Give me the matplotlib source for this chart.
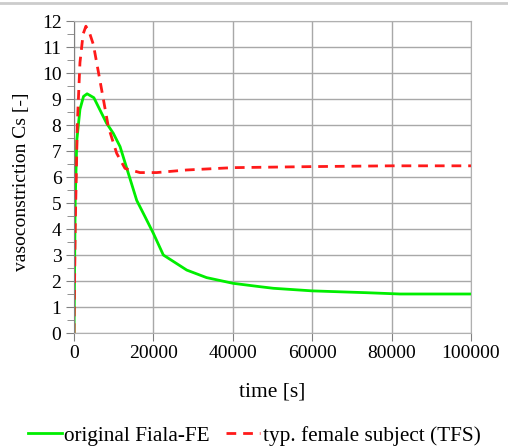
import matplotlib.pyplot as plt
from matplotlib.lines import Line2D
from matplotlib.ticker import MultipleLocator

# original Fiala-FE
t_fiala = [0, 300, 700, 1500, 2400, 3300, 5000, 8200, 9900, 11600, 15800, 17900,
           20000, 22500, 28400, 33400, 40100, 46900, 50200, 60000, 73700, 82100, 100000]
cs_fiala = [0, 5.0, 7.4, 8.6, 9.1, 9.2, 9.05, 8.07, 7.68, 7.17, 5.1, 4.47,
            3.83, 3.0, 2.42, 2.13, 1.91, 1.78, 1.72, 1.62, 1.55, 1.5, 1.5]

# typ. female subject (TFS)
t_tfs = [0, 300, 830, 1500, 2300, 3000, 4000, 4870, 6970, 8650, 10750, 12850,
         16600, 20800, 28400, 40100, 60000, 80100, 100000]
cs_tfs = [0, 4.0, 8.0, 10.4, 11.5, 11.8, 11.5, 11.1, 9.35, 7.93, 6.91, 6.33,
          6.17, 6.17, 6.27, 6.36, 6.4, 6.43, 6.43]

plt.rcParams['font.family'] = ['Liberation Serif', 'DejaVu Serif']

fig = plt.figure(figsize=(5.08, 4.46), dpi=100)
ax = fig.add_axes([74 / 508, 113 / 446, 397 / 508, 312 / 446])

ax.plot(t_fiala, cs_fiala, color='#00ee00', lw=2, label='original Fiala-FE')
ax.plot(t_tfs, cs_tfs, color='#ff1a1a', lw=2, dashes=(3.5, 2.5),
        label='typ. female subject (TFS)')

ax.set_xlim(0, 100000)
ax.set_ylim(0, 12)
ax.xaxis.set_major_locator(MultipleLocator(20000))
ax.yaxis.set_major_locator(MultipleLocator(1))
ax.yaxis.set_minor_locator(MultipleLocator(0.5))
ax.grid(True, which='major', color='#a8a8a8', lw=1)
ax.set_axisbelow(True)

for side in ['top', 'right', 'bottom']:
    ax.spines[side].set_color('#b0b0b0')
ax.spines['left'].set_color('#808080')
ax.tick_params(axis='both', which='major', labelsize=14, length=6, color='#808080', pad=3)
ax.tick_params(axis='y', which='minor', length=5, color='#808080')

ax.set_xlabel('time [s]', fontsize=15.5)
ax.set_ylabel('vasoconstriction Cs [-]', fontsize=14)
ax.xaxis.set_label_coords(0.5, -0.16)
ax.yaxis.set_label_coords(-0.11, 0.486)

fig.legend(loc='lower center', bbox_to_anchor=(0.5, -0.042), ncol=2, frameon=False,
           fontsize=15.3, handlelength=1.6, handletextpad=0.1, columnspacing=0.8)

fig.add_artist(Line2D([0, 1], [1 - 2.5 / 446, 1 - 2.5 / 446], color='#cccccc', lw=2))

fig.savefig('out.png', dpi=100)
